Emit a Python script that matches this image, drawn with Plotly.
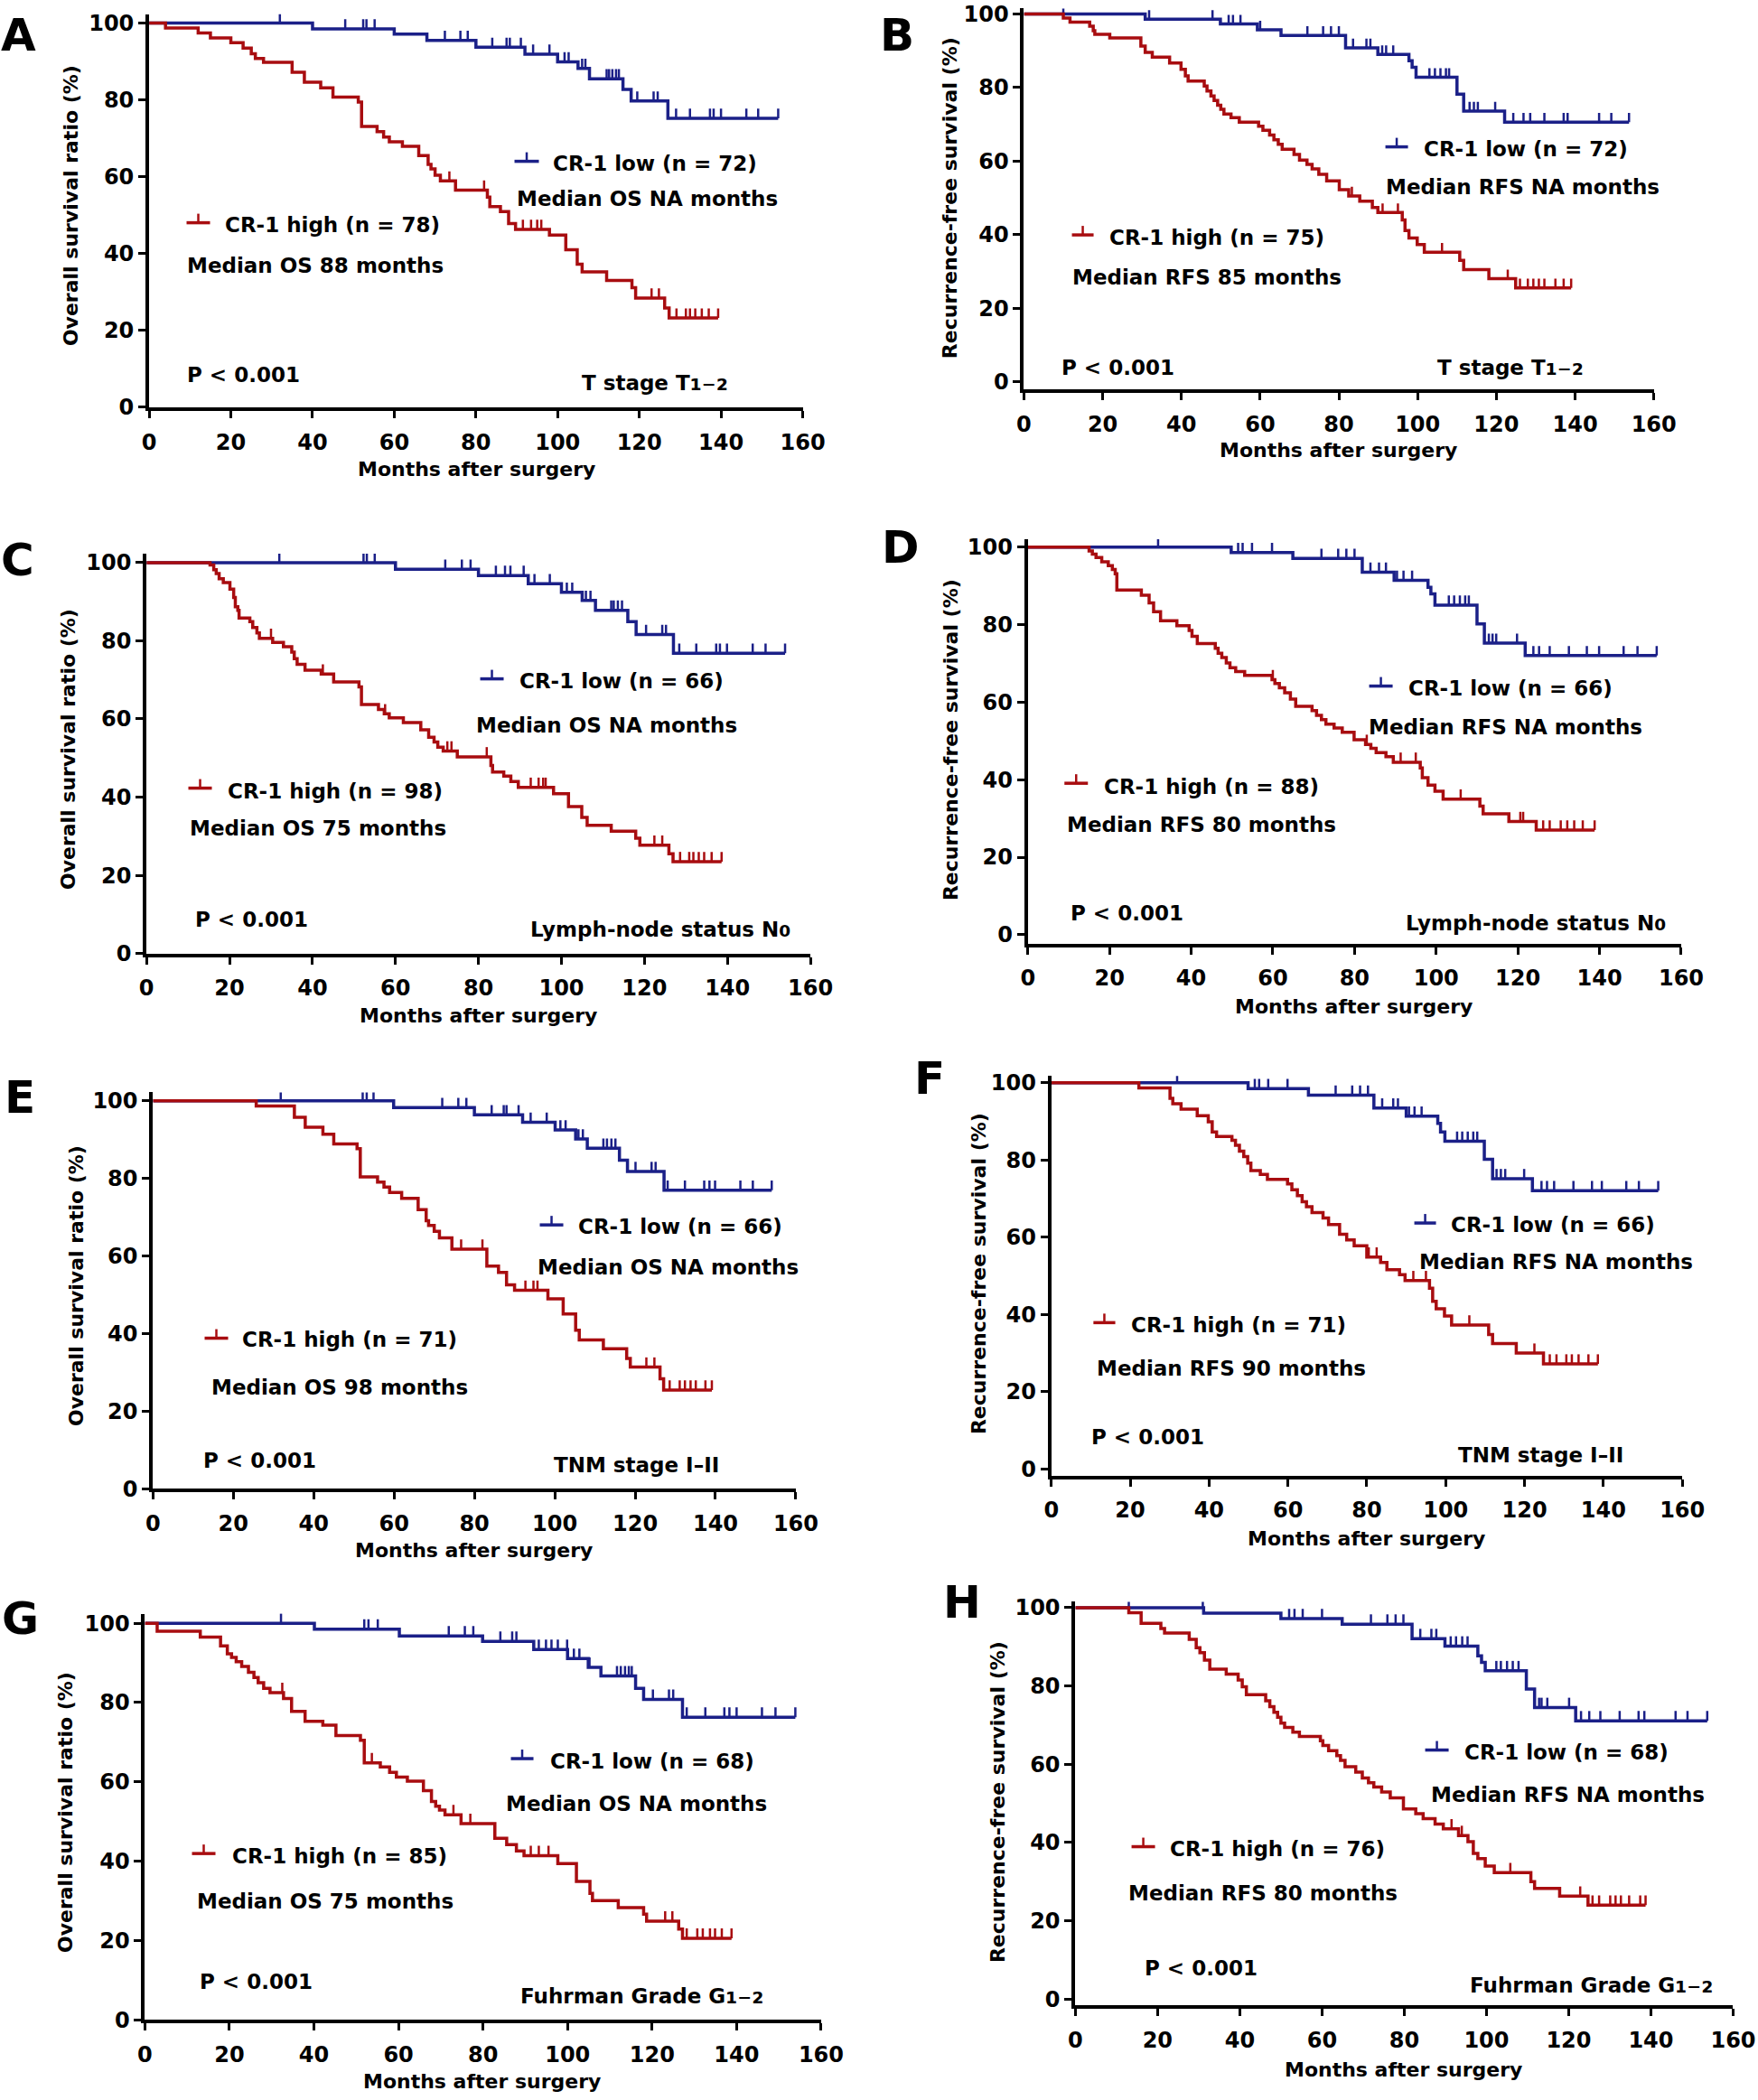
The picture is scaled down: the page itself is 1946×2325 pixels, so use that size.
import plotly.graph_objects as go

W, H = 1946, 2325
BLUE = "#1b2088"
RED = "#a80d10"
FONT = "DejaVu Sans"
TICK_H = 2.5  # height of a censor tick, in % units

# ---- data: event times (months), survival after each event (%), censored times ----
A_LOW_T = [40, 60, 68, 80, 92, 100, 105, 107.8, 116, 118, 127]
A_LOW_S = [98.5, 97.1, 95.5, 93.7, 91.9, 89.9, 88.2, 85.5, 82.7, 79.7, 75.2]
A_LOW_C = [32, 48, 52.4, 53.2, 55.2, 72.4, 76.2, 78, 84, 87.5, 88.3, 91, 94, 98, 101.7, 102.7, 106,
           106.8, 112, 112.6, 113.4, 114.3, 115, 119.5, 123.5, 124.5, 129, 132.4, 137.3, 138.2, 140,
           146.2, 149.1, 154]
A_HIGH_T = [4, 12, 15, 20, 23, 25, 26, 28, 35, 38, 42, 45, 51.2, 52, 55.8, 57.4, 58.8, 62, 66, 68.3,
            69, 70, 71.3, 75, 82.8, 83.4, 86, 88, 89.7, 98, 102, 104.8, 106, 112, 118.2, 119.1, 126.2,
            127.3]
A_HIGH_S = [98.7, 97.4, 96.1, 94.9, 93.5, 92, 90.8, 89.8, 87.2, 84.6, 83.1, 80.7, 79.4, 73.1, 71.7,
            70.3, 69.1, 67.9, 65.5, 63.2, 62, 60.4, 58.9, 56.5, 54.7, 52.2, 50.9, 47.8, 46.3, 44.8,
            41, 37.2, 35.2, 33, 31.1, 28.4, 25.8, 23.2]
A_HIGH_C = [73.5, 82, 91.5, 93.5, 95, 96, 123, 124.8, 129.1, 131.4, 132.4, 133.7, 135.3, 137, 139.3]

B_LOW_T = [30.8, 49.9, 59.3, 65.3, 81.7, 89.9, 97.8, 98.6, 99.6, 110, 111.7, 122.1]
B_LOW_S = [98.6, 97.3, 95.7, 94.2, 90.8, 89, 87.3, 85.5, 82.8, 78.2, 73.6, 70.6]
B_LOW_C = [10, 31.8, 47.9, 52, 53.1, 55, 60, 72, 76, 78, 80, 83.6, 87, 88, 91, 92, 93.8, 103, 104.4,
           105.8, 107.2, 108, 113.2, 114.3, 115.3, 119.7, 124.3, 126.9, 128.6, 132.2, 137.1, 138.1,
           146.1, 149.2, 153.7]
B_HIGH_T = [10, 11.7, 16.7, 17.6, 18, 21.8, 29.7, 30.8, 32.6, 37, 39.9, 41, 41.7, 45.8, 46.5, 47.5,
            48.3, 49.2, 50, 50.8, 52.6, 54.7, 59.6, 60.7, 62.4, 63.5, 64.6, 65.6, 68.6, 70, 71.9, 73.2,
            74.9, 76.9, 80.1, 82.5, 85.3, 88.5, 89.9, 96.1, 96.8, 97.8, 99.9, 101.7, 110.7, 111.7,
            118.1, 124.9]
B_HIGH_S = [98.9, 97.8, 96.7, 95.5, 94.5, 93.5, 91.3, 89.6, 88.3, 86.7, 85, 83.2, 81.8, 80.4, 79.1,
            77.7, 76.5, 75.2, 74.1, 72.8, 71.8, 70.6, 69.5, 68.4, 67.1, 65.8, 64.6, 63.2, 61.8, 60.3,
            59.1, 57.9, 56.4, 54.6, 52.2, 50.5, 49.1, 47.4, 46, 44, 41.1, 39.1, 37.3, 35.2, 33, 30.5,
            28, 25.5]
B_HIGH_C = [83.3, 91.1, 95, 106.2, 122.9, 126, 128, 129.4, 130.8, 132.2, 135, 137.1, 139]

C_LOW_T = [60, 80, 92, 100, 105, 108.2, 116, 118, 127]
C_LOW_S = [98.3, 96.7, 94.6, 92.4, 90.3, 87.8, 84.9, 81.6, 76.8]
C_LOW_C = [32, 52.3, 53.1, 55, 72, 76, 78.1, 84.2, 86.4, 87.7, 90.9, 93.5, 97.2, 101.3, 102.6, 105.9,
           107, 112, 112.6, 113.6, 114.6, 120.4, 124.3, 125.2, 128.4, 132.5, 137.3, 138.2, 139.9,
           146.1, 149.2, 153.9]
C_HIGH_T = [15.3, 16.2, 16.8, 17.5, 18.5, 20.1, 21, 21.4, 22, 22.3, 24.9, 25.6, 26.6, 27.2, 30.4, 33,
            35, 35.6, 36.3, 38.2, 42.1, 45.1, 51.2, 51.8, 55.9, 57.3, 58.5, 61.9, 66.1, 68, 69.3, 70.2,
            71.5, 74.9, 83, 83.4, 86.1, 87.8, 89.6, 98.1, 101.7, 104.9, 106.2, 112, 117.9, 118.9,
            125.9, 126.9]
C_HIGH_S = [99.4, 98.2, 97.2, 95.9, 94.9, 93.2, 91.1, 88.7, 87.8, 85.8, 84.9, 83.4, 82, 80.6, 79.6,
            78.5, 77.1, 75.4, 74, 72.5, 71.5, 69.5, 68.2, 63.7, 62.4, 61.3, 60.3, 59.1, 57.2, 55.3,
            54.1, 52.8, 51.8, 50.3, 48.1, 46.4, 45.4, 44, 42.5, 40.9, 37.6, 34.8, 32.8, 31.3, 29.5,
            27.7, 25.5, 23.5]
C_HIGH_C = [30, 42.5, 57.5, 72.5, 73.5, 82, 92.6, 94.5, 95.6, 96.2, 122.4, 124.3, 128.6, 130.8,
            131.8, 133.1, 134.4, 136.2, 138.6]

D_LOW_T = [49.8, 64.9, 81.9, 89.7, 98, 98.7, 99.7, 110, 111.8, 121.8]
D_LOW_S = [98.6, 97.1, 93.5, 91.4, 89.6, 87.9, 85, 80.2, 75.2, 72]
D_LOW_C = [31.9, 51.5, 52.6, 54.9, 59.8, 71.9, 76, 78, 80, 83.9, 86, 87.7, 90.4, 92, 94.1, 103.1,
           104.4, 105.8, 107.1, 108, 112.9, 113.8, 114.7, 119.8, 123.8, 125.2, 127.8, 132.5, 136.9,
           139.9, 145.9, 149.3, 154]
D_HIGH_T = [15, 15.8, 16.7, 18.1, 19.7, 20.7, 21.4, 21.8, 27.8, 29.7, 30.8, 32.5, 36.5, 39.5, 40.2,
            41.5, 45.9, 46.6, 47.5, 48.6, 49.5, 50.9, 53.1, 59.8, 60.5, 61.6, 62.9, 64.3, 65.6, 69.6,
            70.7, 71.9, 73, 75, 77, 79.9, 82.7, 84, 85.3, 87.7, 89.5, 96.1, 96.6, 98, 99.7, 101.7,
            110.7, 111.5, 117.8, 124.5]
D_HIGH_S = [99, 98.2, 97.3, 96.2, 95.2, 94.2, 93.1, 88.9, 87.6, 85.6, 83.3, 81, 79.7, 78.5, 77, 75.1,
            73.9, 72.6, 71.5, 70.1, 68.9, 67.9, 66.9, 65.8, 64.8, 63.7, 62.4, 60.8, 58.9, 57.8, 56.6,
            55.5, 54.3, 53.3, 52.2, 50.3, 49.1, 48.1, 47, 45.9, 44.5, 43, 40.5, 38.6, 37, 35, 33.2,
            31.2, 29.2, 27]
D_HIGH_C = [60, 83, 91.3, 95, 106, 120.6, 121.3, 126.2, 127.8, 130.5, 132.1, 133.8, 135.9, 138.8]

E_LOW_T = [59.9, 80, 92, 100.1, 105.2, 108.1, 116.1, 118.1, 127.2]
E_LOW_S = [98.3, 96.4, 94.5, 92.5, 90.2, 87.8, 84.7, 81.8, 77]
E_LOW_C = [31.8, 52.2, 53.2, 54.9, 72, 76, 78, 84.3, 87.3, 88, 91, 94, 98, 101.4, 102.7, 105.9, 107,
           112.1, 113, 114.1, 115.1, 120.1, 124.1, 125.1, 128.1, 132.4, 137.2, 138.5, 139.9, 146.2,
           149.3, 154]
E_HIGH_T = [25.7, 35.2, 37.9, 42.3, 45, 50.8, 51.6, 55.9, 57.5, 58.9, 61.9, 66, 68, 68.6, 70, 71.3,
            74.4, 83.1, 86, 88, 90, 98.3, 102.1, 105.2, 106.1, 112.1, 117.9, 118.8, 126.2, 127.1]
E_HIGH_S = [98.7, 95.8, 93.2, 91.4, 88.9, 87.7, 80.4, 79.1, 77.8, 76.4, 74.9, 72, 69.1, 67.9, 66.4,
            64.7, 61.8, 57.4, 55.8, 52.6, 51.2, 49, 45.1, 40.9, 38.4, 36.1, 33.6, 31.4, 28.4, 25.5]
E_HIGH_C = [76.7, 82, 92.7, 94.7, 95.7, 122.8, 124.8, 128.6, 131.1, 132.4, 133.8, 135.1, 137.5, 139.1]

F_LOW_T = [49.9, 65.2, 81.8, 90, 98, 98.7, 99.8, 109.8, 111.9, 122]
F_LOW_S = [98.5, 96.8, 93.5, 91.4, 89.5, 87.3, 84.9, 80.2, 75.2, 72.1]
F_LOW_C = [31.9, 51.6, 52.7, 55, 59.9, 72.1, 76.3, 78.3, 80.3, 83.9, 86.7, 87.9, 90.7, 92.1, 93.9,
           102.9, 104.2, 105.6, 107, 108, 112.9, 114, 115.1, 119.9, 124.3, 125.7, 127.5, 132.4, 137.1,
           139.6, 145.8, 149, 153.9]
F_HIGH_T = [22.2, 30.1, 30.8, 32.9, 37, 39.8, 40.8, 41.9, 45.8, 46.7, 47.7, 48.8, 49.8, 50.6, 53,
            54.8, 59.9, 61, 62.4, 63.6, 64.7, 66.1, 68.9, 70.3, 73.1, 74.9, 76.8, 80, 83.5, 85.1, 88.3,
            89.7, 95.9, 96.7, 97.6, 99.7, 101.5, 110.9, 111.9, 117.9, 124.8]
F_HIGH_S = [98.7, 96, 94.6, 93.2, 91.5, 89.9, 87.3, 86.1, 85.1, 83.8, 82.3, 80.9, 79.2, 77.3, 76.3,
            75, 73.8, 72.3, 70.8, 69.2, 67.9, 66.4, 65, 63.3, 60.8, 59.3, 57.8, 54.9, 53.5, 51.6, 50.3,
            48.8, 46.8, 43.4, 41.5, 39.6, 37.3, 34.8, 32.5, 30, 27.2]
F_HIGH_C = [80.5, 82.5, 91.8, 95, 106, 122.5, 126.4, 128.1, 130.6, 132, 133.7, 136.2, 138.6]

G_LOW_T = [40.1, 60.2, 79.9, 92, 100, 104.9, 107.9, 116.1, 118, 127.2]
G_LOW_S = [98.5, 96.8, 95.4, 93.4, 91.1, 88.9, 86.7, 83.6, 80.8, 76.3]
G_LOW_C = [32.2, 51.9, 52.9, 55.1, 71.9, 75.7, 77.7, 84.1, 86.9, 87.9, 93.2, 94.9, 96.2, 97.7, 99.9,
           101.5, 102.8, 105.2, 111.7, 112.6, 113.6, 114.5, 115.2, 120.2, 124, 125, 128.2, 132.6,
           137.1, 138.3, 140, 146, 149.2, 153.9]
G_HIGH_T = [2.9, 13.1, 17.9, 19.5, 20.5, 21.6, 22.9, 24.5, 25.8, 26.8, 28.1, 29.6, 32.8, 34.7, 37.9,
            42.1, 45.2, 51, 51.9, 55.7, 57.9, 59.5, 62.1, 65.9, 67.8, 68.8, 69.7, 71, 74.8, 82.8, 85.6,
            87.9, 89.7, 97.7, 102.1, 105.3, 105.9, 112, 118, 118.7, 126.3, 127.2]
G_HIGH_S = [98, 96.5, 94.3, 92.3, 91.4, 90.3, 89.1, 87.6, 86.3, 85, 83.6, 82.5, 81, 77.8, 75.3, 74.3,
            71.7, 70.5, 64.8, 63.8, 62.4, 61.2, 60.2, 57.8, 55.1, 53.9, 52.9, 51.7, 49.5, 45.8, 44.2,
            42.6, 41.4, 39.4, 34.9, 31.9, 30.1, 28.3, 26.7, 24.9, 22.9, 20.6]
G_HIGH_C = [32.5, 53.7, 73, 77, 91.3, 93.2, 95.5, 123.1, 124.8, 128.2, 130.7, 132, 133.7, 134.9,
            136.5, 138.8]

H_LOW_T = [31.2, 50, 64.9, 81.9, 89.9, 97.9, 98.8, 99.7, 109.7, 111.7, 121.7]
H_LOW_S = [98.6, 97.2, 95.8, 92.1, 90.2, 87.7, 86, 83.9, 79.2, 74.5, 71.1]
H_LOW_C = [13, 31, 52, 53.3, 55.3, 60, 71.9, 75.9, 77.9, 79.8, 83.9, 86.6, 87.8, 91.3, 92.6, 94.1,
           95.4, 102.4, 103.5, 105, 106.4, 107.8, 112.8, 113.4, 114.8, 120.1, 123, 125, 127.7, 132.4,
           137, 138.4, 146, 148.9, 153.7]
H_HIGH_T = [13, 16, 20.8, 21.7, 27.7, 29.4, 30.3, 31.4, 32.7, 36.7, 39.6, 40.6, 41.6, 46.3, 47.3,
            48.3, 49.2, 50, 50.9, 52.9, 54.5, 59.6, 60.2, 61.6, 63.6, 64.5, 65.6, 68.2, 69.8, 71.3,
            72.6, 74.5, 76.6, 79.8, 82.8, 84.6, 87.5, 89.5, 93.2, 95.5, 96.8, 97.9, 99.7, 101.9,
            110.8, 111.7, 117.8, 124.7]
H_HIGH_S = [98.7, 96, 94.7, 93.5, 91.9, 89.8, 88.5, 86.6, 84.3, 83, 81.5, 79.8, 77.8, 76.2, 74.7,
            73.3, 72, 70.5, 69.4, 68.2, 67.1, 66, 64.8, 63.5, 62.2, 61, 59.4, 58, 56.5, 55.3, 54.2,
            52.9, 51.4, 48.6, 47.4, 46.1, 44.7, 43.5, 41.8, 40.2, 37.2, 35.9, 34, 32.3, 30, 28.3,
            26.3, 24]
H_HIGH_C = [91.5, 94, 105.8, 122.8, 125.8, 127.4, 130.1, 131.4, 132.7, 134.7, 137.4, 138.7]

LETTERS = ["A", "B", "C", "D", "E", "F", "G", "H"]
ENDPOINT = ["OS", "RFS", "OS", "RFS", "OS", "RFS", "OS", "RFS"]
N_LOW = [72, 72, 66, 66, 66, 66, 68, 68]
N_HIGH = [78, 75, 98, 88, 71, 71, 85, 76]
MEDIAN_HIGH = [88, 85, 75, 80, 98, 90, 75, 80]
SUB = "<span style='font-size:30px'>{}</span>"
SUBGROUP = ["T stage T" + SUB.format("₁₋₂"), "T stage T" + SUB.format("₁₋₂"),
            "Lymph-node status N" + SUB.format("₀"), "Lymph-node status N" + SUB.format("₀"),
            "TNM stage I–II", "TNM stage I–II",
            "Fuhrman Grade G" + SUB.format("₁₋₂"), "Fuhrman Grade G" + SUB.format("₁₋₂")]
LOW = [(A_LOW_T, A_LOW_S, A_LOW_C), (B_LOW_T, B_LOW_S, B_LOW_C), (C_LOW_T, C_LOW_S, C_LOW_C),
       (D_LOW_T, D_LOW_S, D_LOW_C), (E_LOW_T, E_LOW_S, E_LOW_C), (F_LOW_T, F_LOW_S, F_LOW_C),
       (G_LOW_T, G_LOW_S, G_LOW_C), (H_LOW_T, H_LOW_S, H_LOW_C)]
HIGH = [(A_HIGH_T, A_HIGH_S, A_HIGH_C), (B_HIGH_T, B_HIGH_S, B_HIGH_C), (C_HIGH_T, C_HIGH_S, C_HIGH_C),
        (D_HIGH_T, D_HIGH_S, D_HIGH_C), (E_HIGH_T, E_HIGH_S, E_HIGH_C), (F_HIGH_T, F_HIGH_S, F_HIGH_C),
        (G_HIGH_T, G_HIGH_S, G_HIGH_C), (H_HIGH_T, H_HIGH_S, H_HIGH_C)]

# ---- layout: target pixel positions in the 1946x2325 picture ----
# plot box: x pixel of 0 and 160 months, y pixel of 0 % and 100 %, y range
GEOM = [
    (163.6, 887.0, 450.2, 24.9, 0, 102.3),
    (1131.9, 1829.1, 421.9, 15.0, -2.2, 101.5),
    (160.7, 895.5, 1055.1, 622.3, 0, 102.3),
    (1136.2, 1859.4, 1034.3, 605.1, -2.25, 102.0),
    (167.8, 879.4, 1647.9, 1218.3, 0, 102.2),
    (1162.2, 1860.6, 1625.8, 1198.3, -1.7, 101.8),
    (158.9, 907.4, 2235.9, 1796.6, 0, 102.4),
    (1188.8, 1916.9, 2212.8, 1779.4, -1.6, 101.5),
]
# text blocks: low glyph (x1, x2, y), low label, low median, high glyph, high label, high median, P, subgroup
TEXTPOS = [
    ((568, 595, 178), (608, 180), (568, 219), (205, 231, 246), (245, 248), (203, 293), (203, 414), (640, 421)),
    ((1532, 1557, 162), (1572, 164), (1530, 206), (1185, 1209, 259.5), (1224, 262), (1183, 306), (1171, 406.6), (1587, 404)),
    ((530, 556, 751), (571, 753.8), (523.6, 802), (207, 233, 872), (248.7, 875), (206.5, 916.8), (212.4, 1017.8), (583, 1026)),
    ((1514, 1540, 759), (1555.6, 761.7), (1511, 804), (1176.7, 1202.7, 866.6), (1218, 870), (1177, 912.5), (1181.6, 1010), (1552, 1019.4)),
    ((596, 622, 1355.6), (636.7, 1357), (591, 1402.9), (225, 251, 1481), (264.8, 1482.8), (230.9, 1535.4), (221.3, 1616.4), (609.9, 1621.4)),
    ((1564, 1588, 1353.5), (1602, 1355), (1567, 1396.5), (1208.8, 1233, 1463.8), (1248, 1466), (1210.6, 1514.7), (1204.6, 1590), (1610, 1610.7)),
    ((564, 589, 1946.5), (605, 1949), (556, 1996.6), (211, 237, 2051.6), (253, 2054), (214, 2104.5), (217, 2193.3), (572.4, 2207)),
    ((1576, 1602, 1937), (1617, 1939.5), (1580, 1986.6), (1251, 1277, 2044), (1291.7, 2046), (1245, 2095), (1263, 2178.6), (1623, 2195)),
]
YTITLE_POS = [(77, 227), (1050, 219), (74, 829), (1051, 819), (83, 1423), (1082, 1410), (71, 2006), (1103, 1995)]
XTITLE_POS = [(526, 519), (1480, 498), (528, 1124), (1497, 1114), (523, 1716), (1511, 1703), (532, 2304), (1552, 2291)]
# panel letters: left x, top y of the text box
LETTER_POS = [(-2, 7), (970, 7), (-2, 588), (972, 574), (2, 1183), (1008, 1162), (-1, 1760), (1040, 1742)]

# the photographed page came out slightly shrunk and shifted; undo that
SX, CX = 0.983, 6.5
SY, CY = 0.991, 6.4


def cal_x(x):
    return (x - CX) / SX


def cal_y(y):
    return (y - CY) / SY


def px(x, y):
    return cal_x(x) / W, 1 - cal_y(y) / H


def step_xy(times, survs, cens):
    end = max([times[-1]] + cens)
    return [0] + times + [end], [100] + survs + [survs[-1]]


def censor_xy(times, survs, cens):
    xs, ys = [], []
    for c in cens:
        s = 100
        for t, v in zip(times, survs):
            if t <= c:
                s = v
        xs += [c, c, None]
        ys += [s, s + TICK_H, None]
    return xs, ys


def bold(size):
    return dict(family=FONT, size=size, color="black", weight="bold")


fig = go.Figure()
annotations, shapes = [], []
layout_axes = {}

for i in range(8):
    xa = "x" if i == 0 else f"x{i + 1}"
    ya = "y" if i == 0 else f"y{i + 1}"
    for (t, s, c), color in ((LOW[i], BLUE), (HIGH[i], RED)):
        sx, sy = step_xy(t, s, c)
        fig.add_trace(go.Scatter(x=sx, y=sy, mode="lines", line=dict(color=color, width=3.5, shape="hv"),
                                 xaxis=xa, yaxis=ya, showlegend=False, hoverinfo="skip"))
        cx, cy = censor_xy(t, s, c)
        fig.add_trace(go.Scatter(x=cx, y=cy, mode="lines", line=dict(color=color, width=2.5),
                                 xaxis=xa, yaxis=ya, showlegend=False, hoverinfo="skip"))

    x0, x160, y0, y100, ymin, ymax = GEOM[i]
    ppy = (y0 - y100) / 100
    bottom = cal_y(y0 - ymin * ppy)
    top = cal_y(y0 - ymax * ppy)
    axis_common = dict(showline=True, linewidth=4, linecolor="black", ticks="outside", ticklen=8,
                       tickwidth=3, tickcolor="black", showgrid=False, zeroline=False,
                       tickfont=bold(24), fixedrange=True)
    layout_axes["xaxis" if i == 0 else f"xaxis{i + 1}"] = dict(
        domain=[cal_x(x0) / W, cal_x(x160) / W], range=[0, 160], tickvals=list(range(0, 161, 20)),
        anchor=ya, ticklabelstandoff=6, **axis_common)
    layout_axes["yaxis" if i == 0 else f"yaxis{i + 1}"] = dict(
        domain=[1 - bottom / H, 1 - top / H], range=[ymin, ymax], tickvals=list(range(0, 101, 20)),
        anchor=xa, **axis_common)

    low_g, low_l, low_m, high_g, high_l, high_m, p_pos, sub_pos = TEXTPOS[i]
    for (gx1, gx2, gy), color in ((low_g, BLUE), (high_g, RED)):
        ax1, ay = px(gx1, gy)
        ax2, _ = px(gx2, gy)
        mx, _ = px((gx1 + gx2) / 2, gy)
        _, ay_top = px(0, gy - 10)
        shapes.append(dict(type="line", xref="paper", yref="paper", x0=ax1, x1=ax2, y0=ay, y1=ay,
                           line=dict(color=color, width=3.5)))
        shapes.append(dict(type="line", xref="paper", yref="paper", x0=mx, x1=mx, y0=ay, y1=ay_top,
                           line=dict(color=color, width=2.5)))

    ep = ENDPOINT[i]
    texts = [
        (low_l, f"CR-1 low (n = {N_LOW[i]})"),
        (low_m, f"Median {ep} NA months"),
        (high_l, f"CR-1 high (n = {N_HIGH[i]})"),
        (high_m, f"Median {ep} {MEDIAN_HIGH[i]} months"),
        (p_pos, "P &lt; 0.001"),
        (sub_pos, SUBGROUP[i]),
    ]
    for (tx, ty), txt in texts:
        ax, ay = px(tx, ty)
        annotations.append(dict(x=ax, y=ay, xref="paper", yref="paper", text=txt, showarrow=False,
                                xanchor="left", yanchor="middle", font=bold(23)))

    ytitle = "Overall survival ratio (%)" if ep == "OS" else "Recurrence-free survival (%)"
    ax, ay = px(*YTITLE_POS[i])
    annotations.append(dict(x=ax, y=ay, xref="paper", yref="paper", text=ytitle, textangle=-90,
                            showarrow=False, xanchor="center", yanchor="middle", font=bold(22)))
    ax, ay = px(*XTITLE_POS[i])
    annotations.append(dict(x=ax, y=ay, xref="paper", yref="paper", text="Months after surgery",
                            showarrow=False, xanchor="center", yanchor="middle", font=bold(22)))
    ax, ay = px(*LETTER_POS[i])
    annotations.append(dict(x=ax, y=ay, xref="paper", yref="paper", text=LETTERS[i],
                            showarrow=False, xanchor="left", yanchor="top", font=bold(50)))

fig.update_layout(width=W, height=H, margin=dict(l=0, r=0, t=0, b=0),
                  paper_bgcolor="white", plot_bgcolor="white",
                  annotations=annotations, shapes=shapes, **layout_axes)

# page body margin off, so the figure sits at the window's top-left corner
fig.write_html("out.html", config={"displayModeBar": False},
               post_script="document.body.style.margin = '0';")
